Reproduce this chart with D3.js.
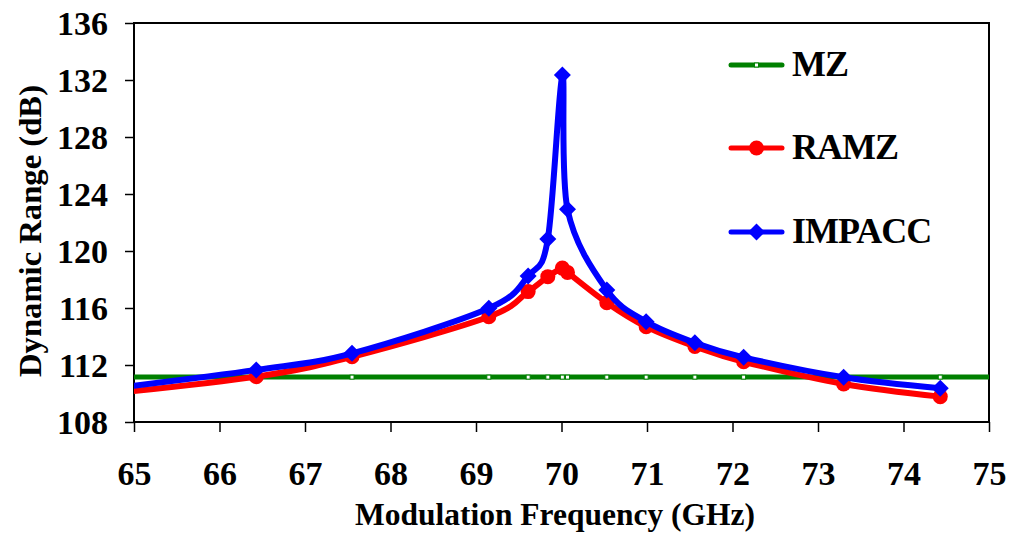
<!DOCTYPE html>
<html>
<head>
<meta charset="utf-8">
<script src="https://cdn.jsdelivr.net/npm/d3@7"></script>
<style>
  html, body { margin: 0; padding: 0; background: #fff; }
  svg { display: block; }
</style>
</head>
<body>
<svg id="chart" width="1012" height="534"></svg>
<script>
// Modulation frequency (GHz) of each measured point; the first lies just left of the axis and is clipped
const freq   = [64.5, 66.43, 67.55, 69.15, 69.61, 69.84, 70.01, 70.07, 70.53, 70.99, 71.56, 72.13, 73.30, 74.43];
// Dynamic range (dB) per modulator
const impacc = [110.18, 111.65, 112.82, 115.98, 118.25, 120.84, 132.35, 122.93, 117.26, 115.04, 113.56, 112.54, 111.14, 110.37];
const ramz   = [109.86, 111.18, 112.58, 115.39, 117.15, 118.2, 118.8, 118.5, 116.37, 114.69, 113.3, 112.23, 110.67, 109.78];
// MZ reference level, flat across the band
const mzFreq = [64.5, 66.43, 67.55, 69.15, 69.61, 69.84, 70.01, 70.07, 70.53, 70.99, 71.56, 72.13, 73.30, 74.43, 75.5];
const mz     = [111.15, 111.15, 111.15, 111.15, 111.15, 111.15, 111.15, 111.15, 111.15, 111.15, 111.15, 111.15, 111.15, 111.15, 111.15];

const xTicks = [65, 66, 67, 68, 69, 70, 71, 72, 73, 74, 75];
const yTicks = [108, 112, 116, 120, 124, 128, 132, 136];
const seriesNames = ["MZ", "RAMZ", "IMPACC"];

const FONT = '"Liberation Serif"';

const svg = d3.select("#chart").attr("font-family", FONT).attr("font-weight", "bold");
const plot = { left: 134, right: 989, top: 23, bottom: 422 };

const x = d3.scaleLinear().domain([65, 75]).range([plot.left, plot.right]);
const y = d3.scaleLinear().domain([108, 136]).range([plot.bottom, plot.top]);

const COLORS = { MZ: "#008000", RAMZ: "#ff0000", IMPACC: "#0000ff" };

svg.append("defs").append("clipPath").attr("id", "plotClip")
  .append("rect")
  .attr("x", plot.left).attr("y", plot.top - 12)
  .attr("width", plot.right - plot.left).attr("height", plot.bottom - plot.top + 12);

// Axes
const yAxis = svg.append("g")
  .attr("transform", `translate(${plot.left},0)`)
  .call(d3.axisLeft(y).tickValues(yTicks).tickSize(9).tickPadding(0).tickFormat(d3.format("d")));
yAxis.attr("font-family", FONT).attr("font-size", 34).attr("font-weight", "bold");
yAxis.select(".domain").remove();
yAxis.selectAll(".tick line").attr("stroke", "#000").attr("stroke-width", 1.5);
yAxis.selectAll(".tick text")
  .attr("x", -26).attr("dy", null).attr("y", 11)
  .attr("fill", "#000")
  .attr("font-family", FONT).attr("font-size", 34).attr("font-weight", "bold");

const xAxis = svg.append("g")
  .attr("transform", `translate(0,${plot.bottom})`)
  .call(d3.axisBottom(x).tickValues(xTicks).tickSize(10).tickFormat(d3.format("d")));
xAxis.attr("font-family", FONT).attr("font-size", 34).attr("font-weight", "bold");
xAxis.select(".domain").remove();
xAxis.selectAll(".tick line").attr("stroke", "#000").attr("stroke-width", 1.5);
xAxis.selectAll(".tick text")
  .attr("y", 63).attr("dy", null)
  .attr("fill", "#000")
  .attr("font-family", FONT).attr("font-size", 34).attr("font-weight", "bold");

// Plot frame
svg.append("rect")
  .attr("x", plot.left).attr("y", plot.top)
  .attr("width", plot.right - plot.left).attr("height", plot.bottom - plot.top)
  .attr("fill", "none").attr("stroke", "#000").attr("stroke-width", 2);

// Axis titles
svg.append("text")
  .attr("x", 555).attr("y", 525)
  .attr("text-anchor", "middle")
  .attr("font-family", FONT).attr("font-size", 32).attr("font-weight", "bold")
  .attr("textLength", 400).attr("lengthAdjust", "spacingAndGlyphs")
  .text("Modulation Frequency (GHz)");

svg.append("text")
  .attr("transform", "translate(41,231) rotate(-90)")
  .attr("text-anchor", "middle")
  .attr("font-family", FONT).attr("font-size", 32).attr("font-weight", "bold")
  .attr("textLength", 292).attr("lengthAdjust", "spacingAndGlyphs")
  .text("Dynamic Range (dB)");

// Series
const line = d3.line().curve(d3.curveCatmullRom.alpha(0)).x(d => x(d[0])).y(d => y(d[1]));
const g = svg.append("g").attr("clip-path", "url(#plotClip)");

const diamondPath = r => `M0,${-r}L${r},0L0,${r}L${-r},0Z`;

// MZ
const mzPts = mzFreq.map((f, i) => [f, mz[i]]);
g.append("path").attr("d", line(mzPts))
  .attr("fill", "none").attr("stroke", COLORS.MZ).attr("stroke-width", 5);
g.selectAll(".mzm").data(mzPts).join("rect")
  .attr("x", d => x(d[0]) - 2).attr("y", d => y(d[1]) - 2)
  .attr("width", 4).attr("height", 4)
  .attr("fill", "#fff").attr("stroke", COLORS.MZ).attr("stroke-width", 1);

// RAMZ
const ramzPts = freq.map((f, i) => [f, ramz[i]]);
g.append("path").attr("d", line(ramzPts))
  .attr("fill", "none").attr("stroke", COLORS.RAMZ).attr("stroke-width", 6)
  .attr("stroke-linejoin", "round");
g.selectAll(".rm").data(ramzPts).join("circle")
  .attr("cx", d => x(d[0])).attr("cy", d => y(d[1])).attr("r", 7.5)
  .attr("fill", COLORS.RAMZ);

// IMPACC
const impPts = freq.map((f, i) => [f, impacc[i]]);
g.append("path").attr("d", line(impPts))
  .attr("fill", "none").attr("stroke", COLORS.IMPACC).attr("stroke-width", 6)
  .attr("stroke-linejoin", "round");
g.selectAll(".im").data(impPts).join("path")
  .attr("transform", d => `translate(${x(d[0])},${y(d[1])})`)
  .attr("d", diamondPath(8.5))
  .attr("fill", COLORS.IMPACC);

// Legend
const legendY = [65, 148, 232];
const leg = svg.append("g");
seriesNames.forEach((name, i) => {
  const ly = legendY[i];
  leg.append("line")
    .attr("x1", 731).attr("x2", 782).attr("y1", ly).attr("y2", ly)
    .attr("stroke", COLORS[name]).attr("stroke-width", 5).attr("stroke-linecap", "round");
  if (name === "MZ") {
    leg.append("rect").attr("x", 754.5).attr("y", ly - 2).attr("width", 4).attr("height", 4)
      .attr("fill", "#fff").attr("stroke", COLORS.MZ).attr("stroke-width", 1);
  } else if (name === "RAMZ") {
    leg.append("circle").attr("cx", 756.5).attr("cy", ly).attr("r", 7.5).attr("fill", COLORS.RAMZ);
  } else {
    leg.append("path").attr("transform", `translate(756.5,${ly})`).attr("d", diamondPath(8.5))
      .attr("fill", COLORS.IMPACC);
  }
  leg.append("text")
    .attr("x", 792).attr("y", ly + 11)
    .attr("font-family", FONT).attr("font-size", 36).attr("font-weight", "bold")
    .attr("letter-spacing", "-1")
    .text(name);
});
</script>
</body>
</html>
